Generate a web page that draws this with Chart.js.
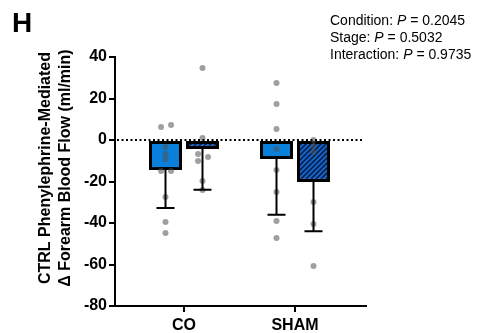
<!DOCTYPE html>
<html>
<head>
<meta charset="utf-8">
<script src="https://cdn.jsdelivr.net/npm/chart.js@4/dist/chart.umd.min.js"></script>
<style>
  body { margin: 0; background: #fff; }
</style>
</head>
<body>
<canvas id="chart" width="485" height="333"></canvas>
<script>
const categories = ["CO", "SHAM"];
const seriesNames = ["Solid", "Hatched"];

// bar means and SD (lower error bar only)
const meanSolid = [-14.5, -9.2];
const meanHatched = [-4.3, -20.2];
const sdSolid = [18.3, 26.8];
const sdHatched = [19.7, 23.8];

// individual points, per group
const ptsCoSolid = [6.3, 7.2, -3.4, -6.7, -9.2, -14.9, -14.9, -27.5, -39.5, -44.8];
const jitCoSolid = [-0.04, 0.05, 0, 0, 0, -0.04, 0.05, 0, 0, 0];
const ptsCoHatched = [34.7, 1, -6.7, -8.2, -10.1, -19.8, -24.1];
const jitCoHatched = [0, 0, -0.04, 0.05, -0.04, 0, 0];
const ptsShamSolid = [27.5, 17.3, 5.3, -4.3, -14.5, -25.1, -39, -47.2];
const ptsShamHatched = [0, -2.9, -5.8, -29.9, -40.5, -60.7];

const yTicks = [40, 20, 0, -20, -40, -60, -80];

const statLines = [
  ["Condition: ", "P", " = 0.2045"],
  ["Stage: ", "P", " = 0.5032"],
  ["Interaction: ", "P", " = 0.9735"]
];
const yTitle = ["CTRL Phenylephrine-Mediated", "\u0394 Forearm Blood Flow (ml/min)"];

const solidBlue = "#0b80db";

function hatch() {
  const c = document.createElement("canvas");
  c.width = 5; c.height = 5;
  const g = c.getContext("2d");
  g.fillStyle = "#1464cc";
  g.fillRect(0, 0, 5, 5);
  g.strokeStyle = "#08183a";
  g.lineWidth = 1.5;
  g.beginPath();
  for (let k = -5; k <= 10; k += 5) {
    g.moveTo(k - 1, 6);
    g.lineTo(k + 6, -1);
  }
  g.stroke();
  return g.createPattern(c, "repeat");
}

// bar centers offset within group (units of category spacing)
const off = 37 / 111 / 2;

function points(vals, idx, side, jit) {
  return vals.map((v, i) => ({ x: idx + side * off + (jit ? jit[i] : 0), y: v }));
}

const dotColor = "rgba(80,80,80,0.55)";

const errorBars = {
  id: "errorBars",
  afterDatasetsDraw(chart) {
    const ctx = chart.ctx;
    const y = chart.scales.y;
    const x = chart.scales.x;
    // zero line
    ctx.save();
    ctx.strokeStyle = "#000";
    ctx.lineWidth = 2;
    ctx.setLineDash([2, 2.5]);
    ctx.beginPath();
    ctx.moveTo(chart.chartArea.left + 2, y.getPixelForValue(0));
    ctx.lineTo(chart.chartArea.right - 3, y.getPixelForValue(0));
    ctx.stroke();
    ctx.restore();

    const sets = [[meanSolid, sdSolid, -1], [meanHatched, sdHatched, 1]];
    ctx.save();
    ctx.strokeStyle = "#000";
    ctx.lineWidth = 2;
    sets.forEach(([m, sd, side]) => {
      m.forEach((v, i) => {
        const px = x.getPixelForValue(i + side * off);
        const y0 = y.getPixelForValue(v);
        const y1 = y.getPixelForValue(v - sd[i]);
        ctx.beginPath();
        ctx.moveTo(px, y0);
        ctx.lineTo(px, y1);
        ctx.moveTo(px - 9, y1);
        ctx.lineTo(px + 9, y1);
        ctx.stroke();
      });
    });
    // category tick marks under the x axis
    const bottom = chart.chartArea.bottom;
    categories.forEach((c, i) => {
      const px = Math.round(x.getPixelForValue(i));
      ctx.beginPath();
      ctx.moveTo(px, bottom);
      ctx.lineTo(px, bottom + 6);
      ctx.stroke();
    });
    ctx.restore();
  },
  afterDraw(chart) {
    const ctx = chart.ctx;
    ctx.save();
    ctx.fillStyle = "#000";
    ctx.font = "bold 28px 'Liberation Sans', Arial, sans-serif";
    ctx.textBaseline = "alphabetic";
    ctx.fillText("H", 12, 32);

    statLines.forEach((parts, i) => {
      let px = 330;
      const py = 25 + i * 17;
      parts.forEach((p, j) => {
        ctx.font = (j === 1 ? "italic " : "") + "14px 'Liberation Sans', Arial, sans-serif";
        ctx.fillText(p, px, py);
        px += ctx.measureText(p).width;
      });
    });

    ctx.translate(0, 168);
    ctx.rotate(-Math.PI / 2);
    ctx.textAlign = "center";
    ctx.textBaseline = "middle";
    ctx.font = "bold 16px 'Liberation Sans', Arial, sans-serif";
    ctx.fillText(yTitle[0], 0, 46);
    ctx.fillText(yTitle[1], 0, 66);
    ctx.restore();
  }
};

new Chart(document.getElementById("chart"), {
  type: "bar",
  data: {
    datasets: [
      { type: "scatter", data: points(ptsCoSolid, 0, -1, jitCoSolid), backgroundColor: dotColor, pointRadius: 3, borderWidth: 0, order: 0 },
      { type: "scatter", data: points(ptsCoHatched, 0, 1, jitCoHatched), backgroundColor: dotColor, pointRadius: 3, borderWidth: 0, order: 0 },
      { type: "scatter", data: points(ptsShamSolid, 1, -1), backgroundColor: dotColor, pointRadius: 3, borderWidth: 0, order: 0 },
      { type: "scatter", data: points(ptsShamHatched, 1, 1), backgroundColor: dotColor, pointRadius: 3, borderWidth: 0, order: 0 },
      {
        label: seriesNames[0],
        data: meanSolid.map((v, i) => ({ x: i, y: v })),
        backgroundColor: solidBlue,
        borderColor: "#000",
        borderWidth: 3,
        borderSkipped: false,
        categoryPercentage: 0.667,
        barPercentage: 0.892,
        order: 1
      },
      {
        label: seriesNames[1],
        data: meanHatched.map((v, i) => ({ x: i, y: v })),
        backgroundColor: hatch(),
        borderColor: "#000",
        borderWidth: 3,
        borderSkipped: false,
        categoryPercentage: 0.667,
        barPercentage: 0.892,
        order: 1
      }
    ]
  },
  options: {
    responsive: false,
    animation: false,
    devicePixelRatio: 1,
    layout: { padding: { left: 0, top: 57, right: 119, bottom: 0 } },
    plugins: { legend: { display: false }, tooltip: { enabled: false } },
    scales: {
      x: {
        type: "linear",
        offset: false,
        min: -0.6216,
        max: 1.6396,
        afterBuildTicks: s => { s.ticks = categories.map((c, i) => ({ value: i })); },
        afterFit: s => { s.height = 27; },
        ticks: {
          callback: v => categories[v],
          color: "#000",
          font: { family: "'Liberation Sans', Arial, sans-serif", size: 16, weight: "bold" },
          padding: 4,
          maxRotation: 0
        },
        grid: { offset: false, drawOnChartArea: false, color: "#000", lineWidth: 2, tickLength: 6 },
        border: { color: "#000", width: 2 }
      },
      y: {
        min: -80,
        max: 40,
        afterBuildTicks: s => { s.ticks = yTicks.map(v => ({ value: v })); },
        afterFit: s => { s.width = 115; },
        ticks: {
          color: "#000",
          font: { family: "'Liberation Sans', Arial, sans-serif", size: 16, weight: "bold" },
          padding: 2
        },
        grid: { drawOnChartArea: false, color: "#000", lineWidth: 2, tickLength: 6 },
        border: { color: "#000", width: 2 }
      }
    }
  },
  plugins: [errorBars]
});
</script>
</body>
</html>
